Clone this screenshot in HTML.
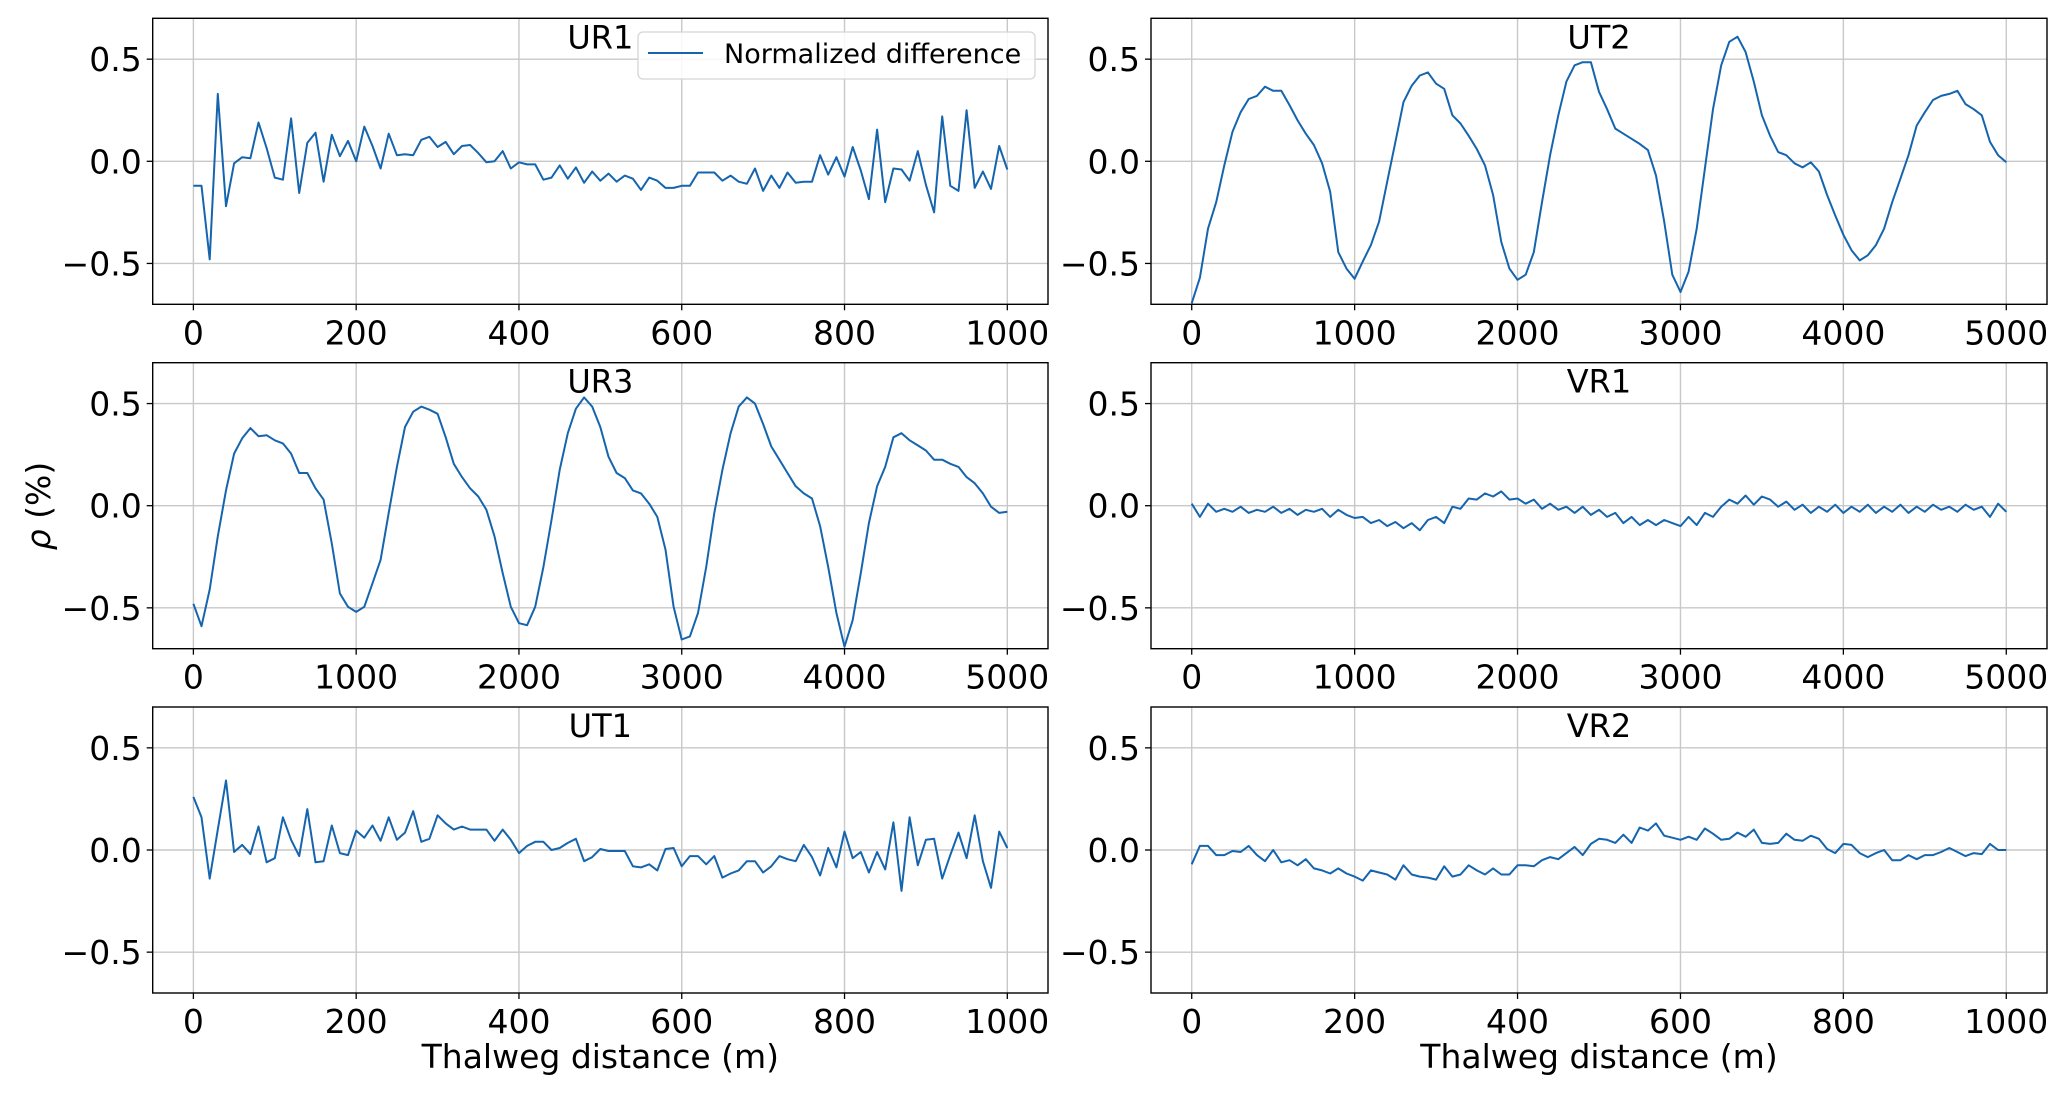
<!DOCTYPE html>
<html><head><meta charset="utf-8"><style>
html,body{margin:0;padding:0;background:#fff;}
svg{display:block;font-family:"DejaVu Sans","Liberation Sans",sans-serif;}
</style></head><body>
<svg id="fig" width="2067" height="1094" viewBox="0 0 2067 1094" xmlns="http://www.w3.org/2000/svg"></svg>
<script>
const yTicks = [-0.5, 0.0, 0.5];
const yTickLabels = ["\u22120.5", "0.0", "0.5"];
const xTicksShort = [0, 200, 400, 600, 800, 1000];
const xTicksLong = [0, 1000, 2000, 3000, 4000, 5000];
const panelTitles = ["UR1", "UT2", "UR3", "VR1", "UT1", "VR2"];

const ur1Values = [-0.12,-0.12,-0.48,0.33,-0.22,-0.01,0.02,0.015,0.19,0.065,-0.08,-0.09,0.21,-0.155,0.09,0.14,-0.1,0.13,0.025,0.1,0,0.17,0.075,-0.035,0.135,0.03,0.035,0.03,0.105,0.12,0.07,0.095,0.035,0.075,0.08,0.04,-0.005,0,0.05,-0.035,-0.005,-0.015,-0.015,-0.09,-0.08,-0.02,-0.085,-0.03,-0.105,-0.05,-0.095,-0.06,-0.1,-0.07,-0.085,-0.14,-0.08,-0.095,-0.13,-0.13,-0.12,-0.12,-0.055,-0.055,-0.055,-0.095,-0.07,-0.1,-0.11,-0.035,-0.145,-0.07,-0.13,-0.055,-0.105,-0.1,-0.1,0.03,-0.065,0.02,-0.075,0.07,-0.045,-0.185,0.155,-0.2,-0.035,-0.04,-0.095,0.05,-0.115,-0.25,0.22,-0.12,-0.145,0.25,-0.13,-0.05,-0.135,0.075,-0.04];
const ut1Values = [0.26,0.16,-0.14,0.1,0.34,-0.01,0.025,-0.02,0.115,-0.06,-0.04,0.16,0.05,-0.03,0.2,-0.06,-0.055,0.12,-0.015,-0.025,0.095,0.06,0.12,0.045,0.16,0.05,0.085,0.19,0.04,0.055,0.17,0.13,0.1,0.115,0.1,0.1,0.1,0.045,0.1,0.05,-0.015,0.02,0.04,0.04,0,0.01,0.035,0.055,-0.055,-0.035,0.005,-0.005,-0.005,-0.005,-0.08,-0.085,-0.07,-0.1,0.005,0.01,-0.08,-0.03,-0.03,-0.07,-0.03,-0.135,-0.115,-0.1,-0.055,-0.055,-0.11,-0.08,-0.03,-0.045,-0.055,0.025,-0.035,-0.125,0.01,-0.085,0.09,-0.04,-0.01,-0.11,-0.01,-0.095,0.135,-0.2,0.16,-0.075,0.05,0.055,-0.14,-0.025,0.085,-0.04,0.17,-0.055,-0.185,0.09,0.01];
const vr2Values = [-0.07,0.02,0.02,-0.025,-0.025,-0.005,-0.01,0.02,-0.025,-0.055,0,-0.06,-0.05,-0.075,-0.045,-0.09,-0.1,-0.115,-0.09,-0.115,-0.13,-0.15,-0.1,-0.11,-0.12,-0.145,-0.075,-0.12,-0.13,-0.135,-0.145,-0.08,-0.13,-0.12,-0.075,-0.1,-0.12,-0.09,-0.12,-0.12,-0.075,-0.075,-0.08,-0.05,-0.035,-0.045,-0.015,0.015,-0.025,0.03,0.055,0.05,0.035,0.075,0.035,0.11,0.095,0.13,0.07,0.06,0.05,0.065,0.05,0.105,0.08,0.05,0.055,0.085,0.065,0.1,0.035,0.03,0.035,0.08,0.05,0.045,0.07,0.055,0.005,-0.015,0.03,0.025,-0.015,-0.035,-0.015,0,-0.05,-0.05,-0.025,-0.045,-0.025,-0.025,-0.01,0.01,-0.01,-0.03,-0.015,-0.02,0.03,0,0];
const ut2Values = [-0.695,-0.57,-0.33,-0.2,-0.02,0.145,0.24,0.305,0.32,0.365,0.345,0.345,0.275,0.2,0.135,0.08,-0.01,-0.15,-0.445,-0.525,-0.575,-0.49,-0.41,-0.295,-0.1,0.095,0.29,0.37,0.42,0.435,0.38,0.355,0.225,0.185,0.125,0.06,-0.02,-0.165,-0.395,-0.525,-0.58,-0.555,-0.445,-0.2,0.03,0.225,0.39,0.47,0.485,0.485,0.34,0.255,0.16,0.135,0.11,0.085,0.055,-0.07,-0.295,-0.555,-0.64,-0.54,-0.33,-0.035,0.255,0.47,0.585,0.61,0.535,0.39,0.225,0.125,0.045,0.03,-0.01,-0.03,-0.005,-0.05,-0.165,-0.265,-0.36,-0.435,-0.485,-0.46,-0.41,-0.33,-0.2,-0.085,0.03,0.175,0.24,0.3,0.32,0.33,0.345,0.28,0.255,0.225,0.095,0.03,-0.005];
const ur3Values = [-0.48,-0.59,-0.41,-0.15,0.075,0.255,0.33,0.38,0.34,0.345,0.32,0.305,0.255,0.16,0.16,0.085,0.03,-0.185,-0.43,-0.495,-0.52,-0.495,-0.38,-0.265,-0.035,0.19,0.385,0.46,0.485,0.47,0.45,0.335,0.205,0.14,0.085,0.045,-0.02,-0.15,-0.33,-0.495,-0.575,-0.585,-0.495,-0.3,-0.07,0.175,0.355,0.475,0.53,0.485,0.385,0.24,0.16,0.135,0.075,0.06,0.01,-0.055,-0.215,-0.495,-0.655,-0.64,-0.525,-0.3,-0.035,0.175,0.355,0.485,0.53,0.5,0.4,0.29,0.225,0.16,0.095,0.06,0.035,-0.1,-0.3,-0.525,-0.69,-0.56,-0.33,-0.085,0.095,0.19,0.335,0.355,0.32,0.295,0.27,0.225,0.225,0.205,0.19,0.14,0.11,0.06,-0.005,-0.035,-0.03];
const vr1Values = [0.01,-0.055,0.01,-0.03,-0.015,-0.03,-0.005,-0.035,-0.02,-0.03,-0.005,-0.035,-0.015,-0.045,-0.02,-0.03,-0.015,-0.055,-0.02,-0.045,-0.06,-0.055,-0.085,-0.07,-0.1,-0.08,-0.11,-0.085,-0.12,-0.07,-0.055,-0.085,-0.005,-0.015,0.035,0.03,0.06,0.045,0.07,0.03,0.035,0.01,0.03,-0.015,0.01,-0.02,-0.005,-0.035,-0.005,-0.045,-0.02,-0.055,-0.035,-0.085,-0.055,-0.095,-0.07,-0.095,-0.07,-0.085,-0.1,-0.055,-0.095,-0.035,-0.055,-0.005,0.03,0.01,0.05,0.005,0.045,0.03,-0.005,0.02,-0.02,0.005,-0.035,-0.005,-0.03,0.005,-0.035,-0.005,-0.03,0.005,-0.035,-0.005,-0.03,0.005,-0.035,-0.005,-0.03,0.005,-0.02,-0.005,-0.03,0.005,-0.02,-0.005,-0.055,0.01,-0.03];

const NS = "http://www.w3.org/2000/svg";
const svg = document.getElementById("fig");
function mk(tag, attrs, parent) {
  const e = document.createElementNS(NS, tag);
  for (const k in attrs) e.setAttribute(k, attrs[k]);
  (parent || svg).appendChild(e);
  return e;
}
const colX = [152.7, 1151];
const colW = [895.3, 896];
const rowY = [18.3, 362.7, 707];
const H = 286;
const panels = [
  {name: "ur1", c: 0, r: 0, vals: ur1Values, max: 1000, ticks: xTicksShort},
  {name: "ut2", c: 1, r: 0, vals: ut2Values, max: 5000, ticks: xTicksLong},
  {name: "ur3", c: 0, r: 1, vals: ur3Values, max: 5000, ticks: xTicksLong},
  {name: "vr1", c: 1, r: 1, vals: vr1Values, max: 5000, ticks: xTicksLong},
  {name: "ut1", c: 0, r: 2, vals: ut1Values, max: 1000, ticks: xTicksShort},
  {name: "vr2", c: 1, r: 2, vals: vr2Values, max: 1000, ticks: xTicksShort}
];
panels.forEach((p, i) => {
  const x0 = colX[p.c], w = colW[p.c], y0 = rowY[p.r];
  const xmin = -0.05 * p.max, xmax = 1.05 * p.max;
  const xs = v => x0 + (v - xmin) / (xmax - xmin) * w;
  const ys = v => y0 + (0.7 - v) / 1.4 * H;
  const g = mk("g", {});
  
  
  p.ticks.forEach(t => {
    const l = mk("line", {x1: xs(t), x2: xs(t), y1: y0, y2: y0 + H, stroke: "#c8c8c8", "stroke-width": 1.4}, g);
    
    
    const tk = mk("line", {x1: xs(t), x2: xs(t), y1: y0 + H, y2: y0 + H + 6, stroke: "#000", "stroke-width": 1.3}, g);
    
    
    const tx = mk("text", {x: xs(t), y: y0 + H + 40, "font-size": 33, "text-anchor": "middle", fill: "#000"}, g);
    tx.textContent = String(t);
    
    
  });
  yTicks.forEach((t, j) => {
    const l = mk("line", {x1: x0, x2: x0 + w, y1: ys(t), y2: ys(t), stroke: "#c8c8c8", "stroke-width": 1.4}, g);
    
    
    const tk = mk("line", {x1: x0 - 6, x2: x0, y1: ys(t), y2: ys(t), stroke: "#000", "stroke-width": 1.3}, g);
    
    
    const tx = mk("text", {x: x0 - 11, y: ys(t) + 12, "font-size": 33, "text-anchor": "end", fill: "#000"}, g);
    tx.textContent = yTickLabels[j];
    
    
  });
  const n = p.vals.length;
  const pts = p.vals.map((v, k) => xs(k * p.max / (n - 1)).toFixed(1) + "," + ys(v).toFixed(1)).join(" ");
  const line = mk("polyline", {points: pts, fill: "none", stroke: "#1565ae", "stroke-width": 2, "stroke-linejoin": "round"}, g);
  
  
  const fr = mk("rect", {x: x0, y: y0, width: w, height: H, fill: "none", stroke: "#000", "stroke-width": 1.4}, g);
  
  
  const tt = mk("text", {x: x0 + w / 2, y: y0 + 30, "font-size": 32, "text-anchor": "middle", fill: "#000"}, g);
  tt.textContent = panelTitles[i];
  
  
});
const lg = mk("g", {});


const lb = mk("rect", {x: 638, y: 32, width: 397, height: 47, rx: 5, fill: "#fff", "fill-opacity": 0.85, stroke: "#d5d5d5", "stroke-width": 1.3}, lg);


const ll = mk("line", {x1: 648, x2: 703, y1: 53, y2: 53, stroke: "#1565ae", "stroke-width": 2}, lg);


const lt = mk("text", {x: 724, y: 63, "font-size": 27, fill: "#000"}, lg);
lt.textContent = "Normalized difference";


[0, 1].forEach(c => {
  const t = mk("text", {x: colX[c] + colW[c] / 2, y: 1068, "font-size": 33, "text-anchor": "middle", fill: "#000"});
  t.textContent = "Thalweg distance (m)";
  
  
});
const yl = mk("text", {x: 0, y: 0, "font-size": 33, "text-anchor": "middle", fill: "#000", transform: "translate(50,506) rotate(-90)"});
yl.innerHTML = '<tspan font-style="italic">\u03c1</tspan> (%)';


</script>
</body></html>
